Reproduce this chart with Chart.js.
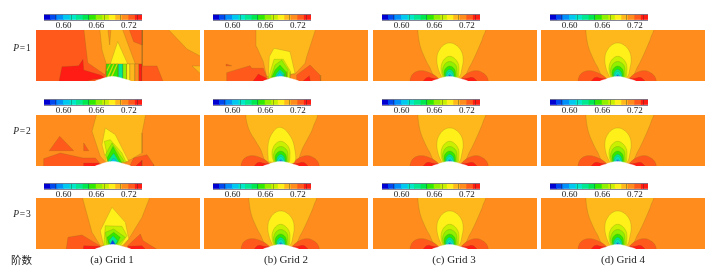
<!DOCTYPE html>
<html><head><meta charset="utf-8">
<script src="https://cdn.jsdelivr.net/npm/chart.js@4/dist/chart.umd.min.js"></script>
<style>
html,body{margin:0;padding:0;background:#fff;width:720px;height:276px;overflow:hidden}
canvas{position:absolute;display:block}
#stage{position:absolute;left:0;top:0;width:720px;height:276px;filter:blur(0.45px)}
.t{position:absolute;font-family:"Liberation Serif",serif;color:#222;white-space:nowrap;transform:translate(-50%,-50%)}
</style></head><body><div id="stage"></div>
<script>
// Colour-bar
const barLevels=[0.57,0.582,0.594,0.606,0.618,0.63,0.642,0.654,0.666,0.678,0.69,0.702,0.714,0.726,0.738];
const barTicks=[0.57,0.60,0.63,0.66,0.69,0.72];
const barLabels=[0.60,0.66,0.72];
const columnNames=["(a) Grid 1","(b) Grid 2","(c) Grid 3","(d) Grid 4"];
const rowNames=["1","2","3"];
const B=[[56,-2],[60,0.3],[64,1.5],[68,3],[72,4],[76.7,4.5],[81,4],[85,3],[90,1.5],[94,0.3],[98,-2]];
const all=[[-2,-2],[-2,53],[166,53],[166,-2]];

// Level index → colour-bar segment: 14 red,13 red-orange,12 orange,11 amber,10 yellow,9 lemon,8 lime,7/6 green,5/4 teal,3 cyan,1 blue
const amberFine=[[44.7,53],[45.5,44],[47.5,34],[51,25],[56,15],[64,3],[89,3],[97,15],[102,25],[106,34],[110,44],[111.7,53]];
const amberWavy=[[41.7,53],[42.5,45],[46,34.3],[51,26],[56,17.7],[64.3,2.7],[90.3,2.7],[99.3,19.3],[104,28],[109.3,39.3],[111.7,53]];
const yellowFine=[[69,3],[65,13],[64,24],[67,32],[72,36.8],[76.7,38],[81.5,36.8],[87,32],[90,24],[89,13],[85,3],[69,3]];
const yellowWavy=[[64.3,4.3],[64.3,22.7],[69.3,34.3],[76,38.7],[84.3,32.7],[90.3,19.3],[89.3,2.7],[64.3,4.3]];
const lemonFine=[[70,3],[68,11],[69,18],[72.5,23],[76.7,24.7],[81,23],[85,18],[86,11],[84,3],[70,3]];
const limeFine=[[71,3],[69.5,10],[71,15.5],[73.5,18.5],[76.7,19.5],[80,18.5],[83,15.5],[84,10],[83,3],[71,3]];
const greenFine=[[72,3],[71,8],[72.5,12.5],[76.7,15],[81,12.5],[82.5,8],[81.5,3],[72,3]];
const green2Fine=[[73,3],[72.5,7],[74.5,10.5],[76.7,11.7],[79,10.5],[81,7],[80.5,3],[73,3]];
const tealFine=[[74,3],[73.5,6],[76.7,9.3],[80,6],[79.5,3],[74,3]];
const cyanFine=[[75,3],[75,5.5],[76.7,7],[78.5,5.5],[78.5,3],[75,3]];
const blueFine=[[75.5,3],[75.5,4.8],[76.7,5.6],[78,4.8],[78,3],[75.5,3]];
const lobeL=[[36.7,-2],[38,4],[41,8],[47,10.3],[56,8.5],[65.7,2.3],[66,-2]];
const lobeR=[[115.7,-2],[114,4],[110,8],[104,10.3],[96,8.5],[88,2.3],[87,-2]];
const redL=[[49,-2],[52,2],[55,3.7],[60,2.7],[66,1.5],[66,-2]];
const redR=[[105.7,-2],[102,2],[99,3.7],[94,2.7],[87,1.5],[87,-2]];
const fine=[[11,amberFine],[13,lobeL],[13,lobeR],[14,redL],[14,redR],[10,yellowFine],[9,lemonFine],[8,limeFine],[7,greenFine],[5,green2Fine],[4,tealFine],[3,cyanFine],[1,blueFine]];
const fineWavy=[[11,amberWavy],[13,lobeL],[13,lobeR],[14,redL],[14,redR],[10,yellowWavy],[9,lemonFine],[8,limeFine],[7,greenFine],[5,green2Fine],[4,tealFine],[3,cyanFine],[1,blueFine]];

const g1p1=[
 [13,[[-2,-2],[-2,53],[106,53],[106,-2]]],
 [12,[[47.7,53],[106,53],[106,17],[70.3,17],[69.3,6],[51.7,18.3]]],
 [11,[[63.7,53],[71.7,53],[73.7,36],[75,53],[86,53],[99.3,17],[70.3,17],[66,31]]],
 [10,[[81.7,39.3],[91.7,17],[74.3,17]]],
 [13,[[92.7,53],[106,53],[106,36],[97.7,39.3]]],
 [14,[[22.7,-2],[26,14.3],[42.7,15.3],[47,21.7],[47.7,11],[64.3,6],[70.3,2.7],[57.7,1.7],[44.3,-2]]],
 [7,[[70.3,17],[82.3,17],[82.3,-2],[70.3,-2]]],
 [9,[[70.5,11],[73.5,17],[75,17],[71,9]]],
 [9,[[71,4],[77,17],[78.5,17],[72.5,3]]],
 [9,[[74,3],[80.5,17],[82,17],[76,3]]],
 [5,[[82.3,17],[87,17],[87,-2],[82.3,-2]]],
 [8,[[87,17],[90.7,17],[90.7,-2],[87,-2]]],
 [10,[[90.7,17],[94,17],[94,-2],[90.7,-2]]],
 [11,[[94,17],[99,17],[99,-2],[94,-2]]],
 [12,[[99,17],[103,17],[103,-2],[99,-2]]],
 [14,[[103,17],[106,17],[106,-2],[103,-2]]],
 [13,[[106,15],[121,15],[127.7,-2],[106,-2]]],
 [11,[[131,53],[166,53],[166,24],[151,32]]],
 [11,[[156,15],[166,15],[166,6]]]
];
const g1p2=[
 [11,[[61,53],[110,53],[106,33],[106,13],[94.3,6.3],[71,2.3],[64.3,9.7],[56,34.7]]],
 [13,[[23.7,29.7],[37.7,15.3],[13.3,15.3]]],
 [13,[[47.7,23],[52.7,15.3],[47.7,15.3]]],
 [13,[[7.7,-2],[7.7,7.3],[24.3,13],[47,8],[59.3,8],[64.3,2.3],[67.7,-2]]],
 [13,[[92.7,-2],[97.7,8],[111,11.3],[117.7,1.3],[117.7,-2]]],
 [14,[[47.7,-2],[47.7,3],[62.7,3],[66,-2]]],
 [14,[[97.7,-2],[106,5.7],[106,-2]]],
 [10,[[69.3,38],[79.3,31.3],[92.7,4.7],[71,2.3],[66,21.3]]],
 [9,[[68.3,24.7],[74.3,26.3],[86,13],[90.3,3.7],[72.7,2.3]]],
 [8,[[69.3,11.3],[76,23],[88.3,4.7],[72.7,2.3]]],
 [7,[[71,8],[77,19.7],[86,3],[72.7,2.3]]],
 [5,[[71.7,4.7],[77.7,13],[84.3,2.3]]],
 [3,[[72.7,2.3],[77.7,8],[82.7,2.3]]]
];
const g1p3=[
 [11,[[46,53],[114.3,53],[106,31.7],[92.7,10],[87.7,3.3],[64.3,3.3],[56,16.7]]],
 [13,[[30,-2],[32,11.7],[46,14],[63.7,3.3],[66,-2]]],
 [13,[[91,-2],[91.7,3.3],[104.3,15],[107,8.3],[123.7,-2]]],
 [14,[[47,-2],[47.7,3.3],[63.7,2.7],[66,-2]]],
 [14,[[92.7,-2],[91.7,2.7],[106,3.3],[111,-2]]],
 [10,[[76,41.7],[89.3,26.7],[92.7,10],[86,3.3],[67.7,3.3],[64.3,18.3]]],
 [9,[[69.3,23.3],[86,22.7],[91,13.3],[84.3,3.3],[67.7,3.3]]],
 [8,[[69.3,16.7],[77.7,20],[89.3,11.7],[81,3.3],[71,3.3]]],
 [7,[[71,11.7],[77.7,16.7],[84.3,11.7],[81,5],[72.7,4]]],
 [5,[[72.7,8.3],[77,13.3],[81.7,8.3],[79.3,4],[74.3,4]]],
 [1,[[73.7,4],[76.7,9],[79.7,4]]]
];
const g2p1=[
 [11,[[52,53],[112,53],[102.7,24.3],[101,17.7],[91,7],[62.7,4.3],[59.3,19.3],[52.7,34.3]]],
 [13,[[22.7,-2],[22.7,8.3],[46,15.3],[47.7,12.7],[59.3,12.7],[62.7,4.3],[59.3,-2]]],
 [13,[[22,17],[27.7,15.3],[22,15]]],
 [13,[[92.7,-2],[92.7,6],[106,16],[116,6],[116.7,-2]]],
 [14,[[47.7,-2],[54.3,7],[62.7,2.7],[64.3,1]]],
 [14,[[96.7,-2],[105.3,5.3],[106.7,-2]]],
 [10,[[70,32.7],[86,29.3],[91,7.7],[64.3,2.7],[65.3,24.3]]],
 [9,[[70,21.7],[79.3,21.7],[86.7,9.3],[86,2.7],[64.3,2.7]]],
 [8,[[71,16],[77.7,21],[84.3,11],[83.3,3.7],[66.7,3.7]]],
 [7,[[71,11],[76,16],[82,9.3],[82.7,3.7],[67.7,3.7]]],
 [5,[[72,7],[76,11.7],[80.7,7],[80,3.7],[71,3.7]]],
 [3,[[72,3.7],[76,9.3],[80,3.7]]]
];
const panels=[g1p1,g2p1,fine,fine, g1p2,fineWavy,fine,fine, g1p3,fine,fine,fine];
const smoothPanels=[false,false,true,true, false,true,true,true, false,true,true,true];

// Layout (separate from the data)
const lefts=[36,204,373,541], tops=[30,115,198], panelW=164, panelH=51;
const barLefts=[44,213,382,550], barTops=[14,99,183], barW=98, barH=6, barTotalH=18;
const rowY=[48,131,214], colX=[112,286,454,623];
const colours=['#0000d0','#0048f0','#0090f8','#00c8f0','#00e8c8','#00e890','#00e850','#30e800','#90f000','#c8f000','#fff01a','#ffb81c','#ff8c1c','#ff5a1c','#ff1c14'];
const stage=document.getElementById('stage');
function mk(l,t,w,h){const c=document.createElement('canvas');c.width=w;c.height=h;c.style.left=l+'px';c.style.top=t+'px';c.style.width=w+'px';c.style.height=h+'px';stage.appendChild(c);return c.getContext('2d');}
function poly(lvl,pts,ten){return {data:pts.map(p=>({x:p[0],y:p[1]})).concat([{x:pts[0][0],y:pts[0][1]}]),showLine:true,fill:'shape',backgroundColor:colours[lvl],borderColor:'rgba(110,95,30,0.4)',borderWidth:0.5,pointRadius:0,tension:ten};}

panels.forEach((list,i)=>{
  const col=i%4,row=Math.floor(i/4),ten=smoothPanels[i]?0.4:0;
  const ds=[Object.assign(poly(12,all,0),{borderWidth:0})];
  list.forEach(e=>ds.push(poly(e[0],e[1],ten)));
  ds.push({data:B.map(p=>({x:p[0],y:p[1]})),showLine:true,fill:'shape',backgroundColor:'#fff',borderColor:'#fff',borderWidth:0.5,pointRadius:0,tension:0.4});
  ds.forEach((d,k)=>{d.order=ds.length-k;});
  new Chart(mk(lefts[col],tops[row],panelW,panelH),{type:'scatter',data:{datasets:ds},options:{
    responsive:false,animation:false,events:[],layout:{padding:0},
    plugins:{legend:{display:false},tooltip:{enabled:false},title:{display:false}},
    scales:{x:{type:'linear',display:false,min:0,max:panelW},y:{type:'linear',display:false,min:0,max:panelH}}
  }});
  new Chart(mk(barLefts[col],barTops[row],barW,barTotalH),{type:'bar',data:{datasets:[{
      data:barLevels.map((v,k)=>({x:v,y:1})),backgroundColor:barLevels.map((v,k)=>colours[k]),
      barThickness:7,borderWidth:0}]},
    options:{responsive:false,animation:false,events:[],
      layout:{padding:{left:0,right:0,top:0,bottom:0}},
      plugins:{legend:{display:false},tooltip:{enabled:false}},
      scales:{
        x:{type:'linear',min:0.564,max:0.744,offset:false,position:'bottom',
           afterBuildTicks:a=>{a.ticks=barTicks.map(v=>({value:v}));},
           afterFit:a=>{a.height=barTotalH-barH;},
           grid:{display:true,z:1,color:'rgba(30,50,30,0.5)',lineWidth:0.7,drawTicks:false},
           border:{display:false},
           ticks:{autoSkip:false,maxRotation:0,padding:0.5,color:'#222',font:{family:'"Liberation Serif",serif',size:9},
             callback:v=>barLabels.some(b=>Math.abs(b-v)<1e-6)?v.toFixed(2):''}},
        y:{display:true,min:0,max:1,afterBuildTicks:a=>{a.ticks=[{value:0},{value:1}];},afterFit:a=>{a.width=0;},
           grid:{display:true,z:1,color:'rgba(120,120,140,0.9)',lineWidth:1,drawTicks:false},
           border:{display:false},ticks:{display:false}}
      }}});
});

function text(html,x,y,size,fam){const d=document.createElement('div');d.className='t';d.innerHTML=html;d.style.left=x+'px';d.style.top=y+'px';d.style.fontSize=size+'px';if(fam)d.style.fontFamily=fam;stage.appendChild(d);}
rowNames.forEach((n,i)=>text('<i>P</i>&#8202;=&#8202;'+n,22,rowY[i],9.5));
columnNames.forEach((n,i)=>text(n,colX[i],259,11));
text('阶数',21.5,259,10.5,'"Noto Sans CJK SC",sans-serif');
</script></body></html>
